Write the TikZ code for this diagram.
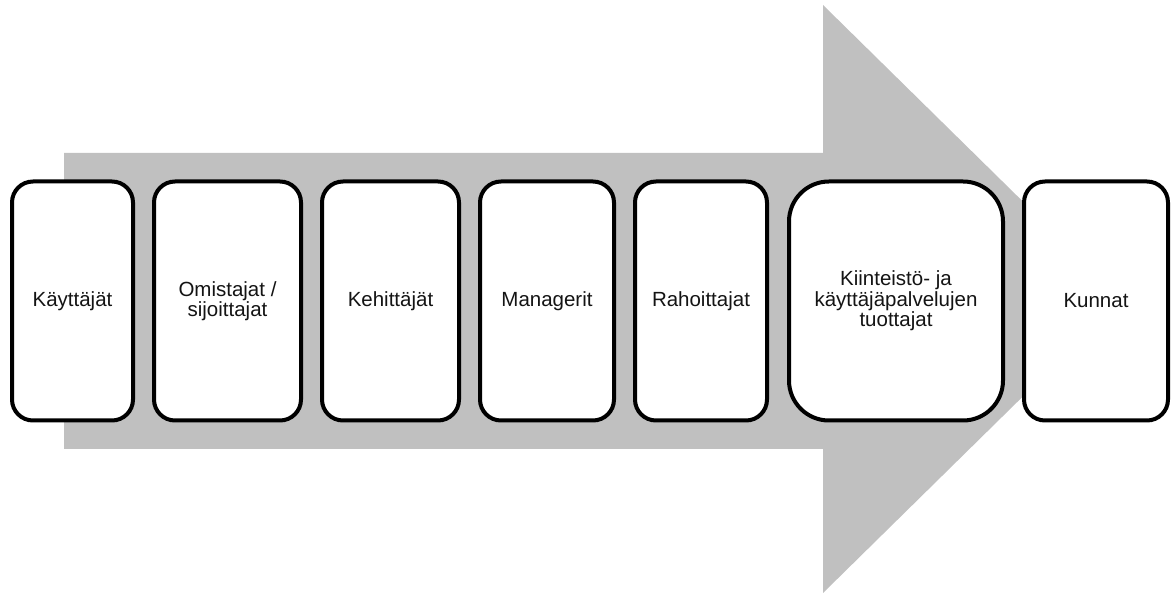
\documentclass[tikz,border=0pt]{standalone}
\usepackage{fontspec}
\setmainfont{Liberation Sans}
\definecolor{arrowgray}{RGB}{192,192,192}
\definecolor{txt}{RGB}{20,20,20}
\tikzset{
  stage/.style={draw=black, line width=4pt, fill=white, rounded corners=21pt,
    rectangle, inner sep=0pt, minimum height=239pt, align=center,
    font=\fontsize{20.5}{20.5}\selectfont, text=txt},
}
\begin{document}
\begin{tikzpicture}[x=1pt,y=-1pt]
\useasboundingbox (0,0) rectangle (1176,593);
\fill[arrowgray] (64,153) -- (823,153) -- (823,5) -- (1122,299) -- (823,593) -- (823,449) -- (64,449) -- cycle;
\node[stage, minimum width=121pt] (b1) at (72.5,301) {Käyttäjät};
\node[stage, minimum width=147pt] (b2) at (227.5,301) {Omistajat /\\sijoittajat};
\node[stage, minimum width=137pt] (b3) at (390.5,301) {Kehittäjät};
\node[stage, minimum width=134pt] (b4) at (547,301) {Managerit};
\node[stage, minimum width=132pt] (b5) at (701,301) {Rahoittajat};
\node[stage, minimum width=214pt, rounded corners=40pt] (b6) at (896,301) {Kiinteistö- ja\\käyttäjäpalvelujen\\tuottajat};
\node[stage, minimum width=144pt] (b7) at (1096,301) {Kunnat};
\end{tikzpicture}
\end{document}
